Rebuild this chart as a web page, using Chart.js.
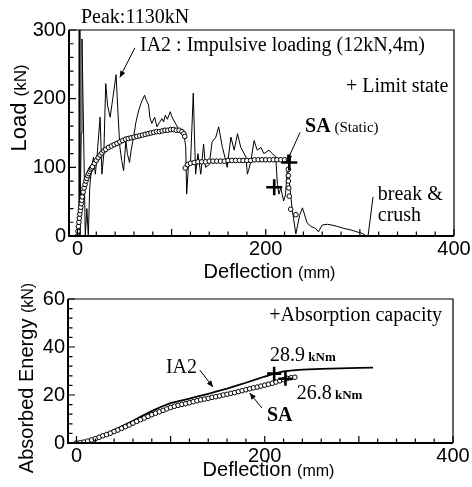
<!DOCTYPE html>
<html><head><meta charset="utf-8">
<script src="https://cdn.jsdelivr.net/npm/chart.js@4.4.1/dist/chart.umd.min.js"></script>
<style>
html,body{margin:0;padding:0;background:#fff;width:472px;height:487px;overflow:hidden}
canvas{position:absolute;left:0;top:0}
</style></head>
<body>
<canvas id="c1" width="472" height="487"></canvas>
<canvas id="c2" width="472" height="487"></canvas>
<script>
// ---------- DATA ----------
const deflTicks = [0, 200, 400];
const loadTicks = [0, 100, 200, 300];
const energyTicks = [0, 20, 40, 60];

// IA2 impulsive loading: load (kN) vs deflection (mm)
const ia2LoadX = [0,1.5,2,2.5,4,4.8,6.5,8.3,10,11.5,13,15,17,19,21,24,26,28,30,32,34.7,37,41,43,45,47,49,51.4,53,55.3,57,59.6,62,65,68,71.3,73,75.5,77,79,82,84.4,87,89.7,91.5,93.3,95.5,98.6,100,102,105,107.4,110,113,115,116,118,120,123,125.5,128,131,134,136,140,143,147,150,154,157.5,159,163,166.5,170,173.5,179,180.5,184,187.6,191,195,198,203.5,207,210.6,212.4,214,216,219,221,223,225,228,232,236,239,244,248,253,256,260,265.5,270,276,283,290,297,302,306,308];
const ia2LoadY = [0,0,1130,0,150,287,150,0,40,0,70,100,115,90,120,173,90,120,222,190,173,195,235,180,130,110,95,139,120,107,125,144,165,183,195,205,198,191,172,164,173,159,165,171,166,176,170,181,175,169,162,156,152,149,130,61,105,102,208,90,120,90,134,100,104,137,144,159,129,110,100,144,125,149,129,115,90,107,139,125,129,120,125,120,115,75,61,70,51,60,100,80,40,3,30,41,19,14,11,6,16,17,16,14,11,9,6,4,1,0];

// SA static: load (kN) vs deflection (mm)
const saLoadX = [0,0.5,1,1.5,2,2.5,3,3.5,4,4.5,5,6,7,8,9,10,11,12,13,14,15,16,18,20,22,24,26,28,30,33,36,39,42,45,48,51,54,57,60,63,66,69,72,75,78,81,84,87,90,93,96,99,102,105,108,111,113,114,114.5,117,120,124,128,132,136,140,144,148,152,156,160,164,168,172,176,180,184,188,192,196,200,204,208,212,216,220,224,224,224,224,224.5,225,226.5,232];
const saLoadY = [0,7,14,20,26,32,37,42,47,52,57,64,70,75,80,84,88,91,94,97,99,101,106,110,114,118,121,124,126,129,131,133,135,137,139,141,142,143,144,145,146,147,148,149,150,151,152,152,153,154,154,155,155,154,154,152,149,145,99,104,106,107,108,108,108,109,109,109,109,109,110,110,110,110,110,110,110,111,111,111,111,111,111,111,111,111,111,97,88,80,70,58,39,31];

// limit states (load chart)
const limitX = [225, 209];
const limitY = [107, 71];

// Absorbed energy (kNm) vs deflection (mm)
const ia2EnergyX = [0,5,10,15,20,30,40,50,60,70,80,90,100,110,120,130,140,150,160,170,180,190,200,210,220,230,240,260,280,300,315];
const ia2EnergyY = [0,0.2,0.6,1.2,2.0,3.6,5.4,7.3,9.3,11.3,13.3,15.1,16.6,17.6,18.5,19.5,20.5,21.6,22.7,23.9,25.1,26.4,27.7,28.9,29.8,30.3,30.6,30.9,31.1,31.3,31.4];
const saEnergyX = [0,4,8,12,16,20,24,28,32,36,40,44,48,52,56,60,64,68,72,76,80,84,88,92,96,100,104,108,112,116,120,124,128,132,136,140,144,148,152,156,160,164,168,172,176,180,184,188,192,196,200,204,208,212,216,220,224,228,232];
const saEnergyY = [0,0.1,0.4,0.8,1.3,1.8,2.4,3.0,3.5,4.1,4.8,5.4,6.1,6.8,7.5,8.3,9.0,9.7,10.4,11.1,11.8,12.4,13.0,13.6,14.2,14.8,15.3,15.7,16.1,16.4,16.8,17.2,17.6,18.0,18.3,18.6,19.0,19.3,19.6,20.0,20.3,20.7,21.0,21.4,21.8,22.2,22.6,23.0,23.3,23.7,24.1,24.5,24.9,25.4,25.9,26.4,26.9,27.2,27.4];
// absorption capacities
const capX = [210, 222];
const capY = [28.9, 26.8];

// ---------- helpers ----------
const pts = (xs, ys) => xs.map((x, i) => ({x, y: ys[i]}));
const SANS = '"Liberation Sans", Arial, sans-serif';
const SERIF = '"Liberation Serif", "Times New Roman", serif';

const deco = {
  id: 'deco',
  afterDraw(chart, args, o) {
    const ctx = chart.ctx, a = chart.chartArea;
    const xs = chart.scales.x, ys = chart.scales.y;
    ctx.save();
    ctx.strokeStyle = '#000'; ctx.fillStyle = '#000';
    // frame
    ctx.lineWidth = 1.2;
    ctx.beginPath();
    ctx.moveTo(a.left, a.top); ctx.lineTo(a.right, a.top); ctx.lineTo(a.right, a.bottom);
    ctx.stroke();
    ctx.lineWidth = 2;
    ctx.beginPath();
    ctx.moveTo(a.left, a.top); ctx.lineTo(a.left, a.bottom); ctx.lineTo(a.right, a.bottom);
    ctx.stroke();
    // inward ticks
    ctx.lineWidth = 1.2;
    ctx.beginPath();
    for (let v = 0; v <= o.xMax + 1e-6; v += o.xMinor) {
      const p = xs.getPixelForValue(v);
      const L = (Math.abs(v % o.xMajor) < 1e-6) ? 7 : 4.5;
      ctx.moveTo(p, a.bottom); ctx.lineTo(p, a.bottom - L);
    }
    for (let v = 0; v <= o.yMax + 1e-6; v += o.yMinor) {
      const p = ys.getPixelForValue(v);
      const L = (Math.abs(v % o.yMajor) < 1e-6) ? 7 : 4.5;
      ctx.moveTo(a.left, p); ctx.lineTo(a.left + L, p);
    }
    ctx.stroke();
    // arrows
    ctx.lineWidth = 1;
    (o.arrows || []).forEach(ar => {
      const x1 = xs.getPixelForValue(ar[0]), y1 = ys.getPixelForValue(ar[1]);
      const x2 = xs.getPixelForValue(ar[2]), y2 = ys.getPixelForValue(ar[3]);
      ctx.beginPath(); ctx.moveTo(x1, y1); ctx.lineTo(x2, y2); ctx.stroke();
      if (ar[4]) {
        const ang = Math.atan2(y2 - y1, x2 - x1), h = 7;
        ctx.beginPath();
        ctx.moveTo(x2, y2);
        ctx.lineTo(x2 - h * Math.cos(ang - 0.4), y2 - h * Math.sin(ang - 0.4));
        ctx.lineTo(x2 - h * Math.cos(ang + 0.4), y2 - h * Math.sin(ang + 0.4));
        ctx.closePath(); ctx.fill();
      }
    });
    // notes
    ctx.textBaseline = 'alphabetic';
    (o.notes || []).forEach(n => {
      let x = xs.getPixelForValue(n.x);
      const y = ys.getPixelForValue(n.y);
      let w = 0;
      n.parts.forEach(p => { ctx.font = p[1]; w += ctx.measureText(p[0]).width; });
      if (n.align === 'right') x -= w;
      n.parts.forEach(p => { ctx.font = p[1]; ctx.textAlign = 'left'; ctx.fillText(p[0], x, y); x += ctx.measureText(p[0]).width; });
    });
    // axis titles
    const drawTitle = (t, cx, cy, rot) => {
      ctx.save(); ctx.translate(cx, cy); if (rot) ctx.rotate(-Math.PI / 2);
      let w = 0;
      t.forEach(p => { ctx.font = p[1]; w += ctx.measureText(p[0]).width; });
      let x = -w / 2;
      t.forEach(p => { ctx.font = p[1]; ctx.textAlign = 'left'; ctx.fillText(p[0], x, 0); x += ctx.measureText(p[0]).width; });
      ctx.restore();
    };
    drawTitle(o.xTitle, (a.left + a.right) / 2 + 8, o.xTitleY, false);
    drawTitle(o.yTitle, o.yTitleX, o.yTitleY, true);
    ctx.restore();
  }
};

function scalesFor(yMin, yMax, yTicks, yWidth, xHeight) {
  const tickFont = {family: SANS, size: 20};
  return {
    x: {type: 'linear', min: -9, max: 400,
        afterBuildTicks: s => { s.ticks = deflTicks.map(v => ({value: v})); },
        afterFit: s => { s.height = xHeight; },
        ticks: {font: tickFont, color: '#000', padding: 1, maxRotation: 0, autoSkip: false},
        grid: {display: false, drawTicks: false}, border: {display: false}},
    y: {type: 'linear', min: yMin, max: yMax,
        afterBuildTicks: s => { s.ticks = yTicks.map(v => ({value: v})); },
        afterFit: s => { s.width = yWidth; },
        ticks: {font: tickFont, color: '#000', padding: 3, autoSkip: false},
        grid: {display: false, drawTicks: false}, border: {display: false}}
  };
}

const circleDs = (data) => ({data, showLine: false, pointRadius: 2.3, pointBackgroundColor: '#fff',
  pointBorderColor: '#000', pointBorderWidth: 1, borderColor: '#000'});
const plusDs = (data, r) => ({data, showLine: false, pointStyle: 'cross', pointRadius: r,
  pointBorderColor: '#000', pointBorderWidth: 2.6, borderColor: '#000', clip: false});

// ---------- top chart ----------
new Chart(document.getElementById('c1'), {
  type: 'scatter',
  data: {datasets: [
    plusDs(pts(limitX, limitY), 8),
    circleDs(pts(saLoadX, saLoadY)),
    {data: pts(ia2LoadX, ia2LoadY), showLine: true, borderColor: '#000', borderWidth: 1, pointRadius: 0, tension: 0}
  ]},
  options: {
    responsive: false, animation: false, devicePixelRatio: 1, events: [],
    layout: {padding: {top: 30, right: 18, left: 0, bottom: 0}},
    scales: scalesFor(0, 300, loadTicks, 69, 251),
    plugins: {legend: {display: false}, tooltip: {enabled: false},
      deco: {
        xMax: 400, xMinor: 20, xMajor: 100, yMax: 300, yMinor: 20, yMajor: 100,
        arrows: [[61, 274, 45, 231, true], [236.5, 151, 222.6, 109, true], [308.7, 0, 314, 57, false]],
        notes: [
          {x: 3.7, y: 310, parts: [['Peak:1130kN', '20px ' + SERIF]]},
          {x: 66.4, y: 270, parts: [['IA2 : Impulsive loading (12kN,4m)', '20px ' + SERIF]]},
          {x: 394, y: 210, align: 'right', parts: [['+ Limit state', '20px ' + SERIF]]},
          {x: 241.8, y: 151, parts: [['SA', 'bold 20px ' + SERIF], [' (Static)', '15px ' + SERIF]]},
          {x: 319, y: 52, parts: [['break &', '20px ' + SERIF]]},
          {x: 319, y: 22, parts: [['crush', '20px ' + SERIF]]}
        ],
        xTitle: [['Deflection ', '20px ' + SANS], ['(mm)', '16px ' + SANS]], xTitleY: 278,
        yTitle: [['Load ', '22px ' + SANS], ['(kN)', '17px ' + SANS]], yTitleX: 26, yTitleY: 108
      }}
  },
  plugins: [deco]
});

// ---------- bottom chart ----------
new Chart(document.getElementById('c2'), {
  type: 'scatter',
  data: {datasets: [
    plusDs(pts(capX, capY), 7),
    circleDs(pts(saEnergyX, saEnergyY)),
    {data: pts(ia2EnergyX, ia2EnergyY), showLine: true, borderColor: '#000', borderWidth: 1.8, pointRadius: 0, tension: 0}
  ]},
  options: {
    responsive: false, animation: false, devicePixelRatio: 1, events: [],
    layout: {padding: {top: 299, right: 19, left: 0, bottom: 0}},
    scales: scalesFor(0, 60, energyTicks, 68, 44),
    plugins: {legend: {display: false}, tooltip: {enabled: false},
      deco: {
        xMax: 400, xMinor: 20, xMajor: 100, yMax: 60, yMinor: 4, yMajor: 20,
        arrows: [[131, 30.4, 145, 23.3, true], [197, 14.6, 184, 20.8, true]],
        notes: [
          {x: 388.4, y: 51, align: 'right', parts: [['+Absorption capacity', '20px ' + SERIF]]},
          {x: 95, y: 29, parts: [['IA2', '20px ' + SERIF]]},
          {x: 202.4, y: 9, parts: [['SA', 'bold 20px ' + SERIF]]},
          {x: 205.6, y: 34, parts: [['28.9', '20px ' + SERIF], [' kNm', 'bold 13px ' + SERIF]]},
          {x: 234, y: 18.5, parts: [['26.8', '20px ' + SERIF], [' kNm', 'bold 13px ' + SERIF]]}
        ],
        xTitle: [['Deflection ', '20px ' + SANS], ['(mm)', '16px ' + SANS]], xTitleY: 476,
        yTitle: [['Absorbed Energy ', '20px ' + SANS], ['(kN)', '16px ' + SANS]], yTitleX: 33, yTitleY: 378
      }}
  },
  plugins: [deco]
});
</script>
</body></html>
